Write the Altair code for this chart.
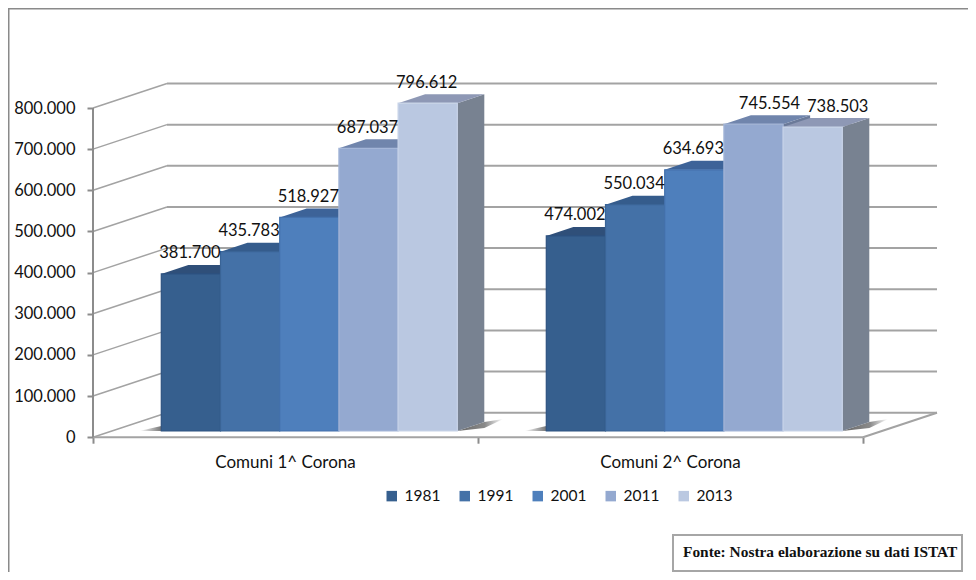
import altair as alt
import pandas as pd

categories = ["Comuni 1^ Corona", "Comuni 2^ Corona"]
years = ["1981", "1991", "2001", "2011", "2013"]
values_corona1 = [381700, 435783, 518927, 687037, 796612]
values_corona2 = [474002, 550034, 634693, 745554, 738503]
axis_ticks = [0, 100000, 200000, 300000, 400000, 500000, 600000, 700000, 800000]

front_colors = ["#365f8e", "#4471a7", "#4e7fbc", "#94a9d0", "#bac8e1"]
edge_colors = ["#2d5280", "#3a6496", "#4471ac", "#a4b6d8", "#c8d3e8"]
top_colors = ["#2f4f79", "#355c8c", "#3d6398", "#7085ac", "#8e98b5"]
side_colors = ["#2a4a70", "#33557f", "#3a5c8c", "#6b7a99", "#788291"]
GRID = "#a3a3a3"
AXIS = "#8c8c8c"
FONT = "Lato"

# geometry of the pseudo-3D projection, in pixels of the page
W, H = 960, 564
X0_PAGE, Y0_PAGE = 93, 437.2
CAT_PX = 385.0
VAL_PX = 0.0004115


def du(px):
    return px / CAT_PX


def dv(px):
    return px / VAL_PX


x_domain = [du(8 - X0_PAGE), du(8 + W - X0_PAGE)]
y_domain = [dv(Y0_PAGE - (8 + H)), dv(Y0_PAGE - 8)]

BAR_START = du(68.3)
BAR_W = du(59.2)
LIFT = dv(6.2)
BAR_DX, BAR_DY = du(27), dv(9)
WALL_DX, WALL_DY = du(74), dv(24.5)

label_nudge = {("Comuni 2^ Corona", "2011"): 16, ("Comuni 2^ Corona", "2013"): 25}

rows = []
for i, (cat, vals) in enumerate(zip(categories, [values_corona1, values_corona2])):
    for j, (yr, v) in enumerate(zip(years, vals)):
        left = i + BAR_START + j * BAR_W
        rows.append(dict(category=cat, year=yr, value=v, j=j, left=left, right=left + BAR_W,
                         base=LIFT, top=v + LIFT,
                         label_x=left + BAR_W / 2 + du(label_nudge.get((cat, yr), -1)),
                         label_y=v + LIFT + dv(20.5),
                         label=f"{v // 1000}.{v % 1000:03d}"))
bars = pd.DataFrame(rows)

side_rows, top_rows = [], []
for r in rows:
    key = r["category"] + r["year"]
    side_rows += [dict(key=key, j=r["j"], x=r["right"], y=r["top"], y2=r["base"], fill=side_colors[r["j"]]),
                  dict(key=key, j=r["j"], x=r["right"] + BAR_DX, y=r["top"] + BAR_DY, y2=r["base"] + BAR_DY,
                       fill=side_colors[r["j"]])]
    top_rows += [dict(key=key, j=r["j"], y=r["top"], x=r["left"], x2=r["right"], fill=top_colors[r["j"]]),
                 dict(key=key, j=r["j"], y=r["top"] + BAR_DY, x=r["left"] + BAR_DX, x2=r["right"] + BAR_DX,
                      fill=top_colors[r["j"]])]
sides = pd.DataFrame(side_rows)
tops = pd.DataFrame(top_rows)

X = lambda f: alt.X(f, type="quantitative", scale=alt.Scale(domain=x_domain, nice=False, zero=False), title=None,
                    stack=None,
                    axis=alt.Axis(values=[0, 1, 2], labels=False, grid=False, domain=False, orient="bottom",
                                  offset=-(8 + H - Y0_PAGE), tickColor=AXIS, tickWidth=2, tickSize=6))
Y = lambda f: alt.Y(f, type="quantitative", scale=alt.Scale(domain=y_domain, nice=False, zero=False), title=None,
                    stack=None,
                    axis=alt.Axis(values=axis_ticks, grid=False, domain=False, orient="left",
                                  offset=-(X0_PAGE - 8), tickColor=AXIS, tickWidth=2, tickSize=6, labelPadding=12,
                                  labelFont=FONT, labelFontSize=16.5, labelColor="#111111",
                                  labelExpr="replace(format(datum.value, ','), ',', '.')"))

grid_df = pd.DataFrame({"v": axis_ticks})
grid_df["back"] = grid_df["v"] + WALL_DY
grid_df["x_wall"] = WALL_DX
grid_df["x_end"] = 2 + WALL_DX
grid_df["x_start"] = 0.0

back_lines = alt.Chart(grid_df).mark_rule(color=GRID, strokeWidth=2).encode(
    x=X("x_wall"), x2="x_end", y=Y("back"))
wall_lines = alt.Chart(pd.concat([
    grid_df.assign(gid=grid_df.v, px=0.0, py=grid_df.v),
    grid_df.assign(gid=grid_df.v, px=WALL_DX, py=grid_df.back)])).mark_line(color=GRID, strokeWidth=1.5).encode(
    x=X("px"), y=Y("py"), detail="gid:N")

floor = pd.DataFrame({"x": [0.0, 2.0], "x2": [2.0, 2 + WALL_DX], "y": [0.0, 0.0], "y2": [0.0, WALL_DY]})
floor_lines = alt.Chart(floor).mark_rule(color=GRID, strokeWidth=2).encode(
    x=X("x"), x2="x2", y=Y("y"), y2="y2")
axis_line = alt.Chart(pd.DataFrame({"x": [0.0], "y": [0.0], "y2": [800000.0]})).mark_rule(
    color=AXIS, strokeWidth=2).encode(x=X("x"), y=Y("y"), y2="y2")

# soft contact shadows either side of each group of bars
shadow_rows = []
for i in range(2):
    first = i + BAR_START
    shadow_rows += [dict(g=f"L{i}", x=first - du(22), y=LIFT, y2=LIFT),
                    dict(g=f"L{i}", x=first, y=LIFT + dv(5), y2=LIFT)]
right_rows = []
for i in range(2):
    last = i + BAR_START + 5 * BAR_W
    right_rows += [dict(g=f"R{i}", x=last, y=LIFT, y2=LIFT),
                   dict(g=f"R{i}", x=last + BAR_DX, y=LIFT + BAR_DY, y2=LIFT + dv(3)),
                   dict(g=f"R{i}", x=last + BAR_DX + du(19), y=LIFT + dv(12), y2=LIFT + dv(12))]
shadow_l = alt.Chart(pd.DataFrame(shadow_rows)).mark_area(
    color=alt.Gradient(gradient="linear", x1=0, x2=1, y1=0, y2=0,
                       stops=[alt.GradientStop(color="#ffffff", offset=0), alt.GradientStop(color="#777777", offset=1)])
).encode(x=X("x"), y=Y("y"), y2="y2", detail="g:N")
shadow_r = alt.Chart(pd.DataFrame(right_rows)).mark_area(
    color=alt.Gradient(gradient="linear", x1=0, x2=1, y1=0, y2=0,
                       stops=[alt.GradientStop(color="#666666", offset=0), alt.GradientStop(color="#8a8a8a", offset=0.6),
                              alt.GradientStop(color="#ffffff", offset=1)])
).encode(x=X("x"), y=Y("y"), y2="y2", detail="g:N")

side_layer = alt.Chart(sides).mark_area(orient="vertical").encode(
    x=X("x"), y=Y("y"), y2="y2", detail="key:N", fill=alt.Fill("fill:N", scale=None, legend=None),
    order="j:Q")
top_layer = alt.Chart(tops).mark_area(orient="horizontal").encode(
    y=Y("y"), x=X("x"), x2="x2", detail="key:N", fill=alt.Fill("fill:N", scale=None, legend=None),
    order="j:Q")

front = alt.Chart(bars).mark_rect(strokeWidth=1.2).encode(
    x=X("left"), x2="right", y=Y("base"), y2="top",
    color=alt.Color("year:N", scale=alt.Scale(domain=years, range=front_colors), sort=years,
                    legend=alt.Legend(orient="none", legendX=376, legendY=480, direction="horizontal", columns=5,
                                      title=None, symbolType="square", symbolSize=110, symbolStrokeWidth=0,
                                      labelFont=FONT, labelFontSize=15.5, labelColor="#111111", labelOffset=5,
                                      columnPadding=16, padding=0)),
    stroke=alt.Stroke("year:N", scale=alt.Scale(domain=years, range=edge_colors), legend=None),
)

data_labels = alt.Chart(bars).mark_text(font=FONT, fontSize=16.5, color="#111111", baseline="middle").encode(
    x=X("label_x"), y=Y("label_y"), text="label:N")

cat_df = pd.DataFrame({"category": categories, "x": [0.5, 1.5], "y": [-dv(26)] * 2})
cat_labels = alt.Chart(cat_df).mark_text(font=FONT, fontSize=17, color="#111111", baseline="middle").encode(
    x=X("x"), y=Y("y"), text="category:N")

one = pd.DataFrame({"t": ["Fonte: Nostra elaborazione su dati ISTAT"]})
frame_top = alt.Chart(one).mark_rule(color="#8a8a8a", strokeWidth=2).encode(
    x=alt.value(0), x2=alt.value(W), y=alt.value(0.5))
frame_left = alt.Chart(one).mark_rule(color="#8a8a8a", strokeWidth=2).encode(
    x=alt.value(0.5), y=alt.value(0), y2=alt.value(H))
source_box = alt.Chart(one).mark_rect(fill="#ffffff", stroke="#a6a6a6", strokeWidth=2).encode(
    x=alt.value(665), x2=alt.value(954), y=alt.value(527), y2=alt.value(563))
source_text = alt.Chart(one).mark_text(font="Liberation Serif", fontWeight="bold", fontSize=15.4, color="#111111",
                                       align="left", baseline="middle").encode(
    x=alt.value(675), y=alt.value(544), text="t:N")

chart = alt.layer(
    frame_top, frame_left, back_lines, wall_lines, floor_lines, axis_line,
    shadow_l, shadow_r, side_layer, top_layer, front, data_labels, cat_labels, source_box, source_text,
).resolve_scale(color="independent", fill="independent", stroke="independent").properties(
    width=W, height=H, autosize=alt.AutoSizeParams(type="none"), padding=0, background="#ffffff",
).configure_view(stroke=None)

chart.save("out.html", embed_options={"renderer": "svg", "actions": False})
